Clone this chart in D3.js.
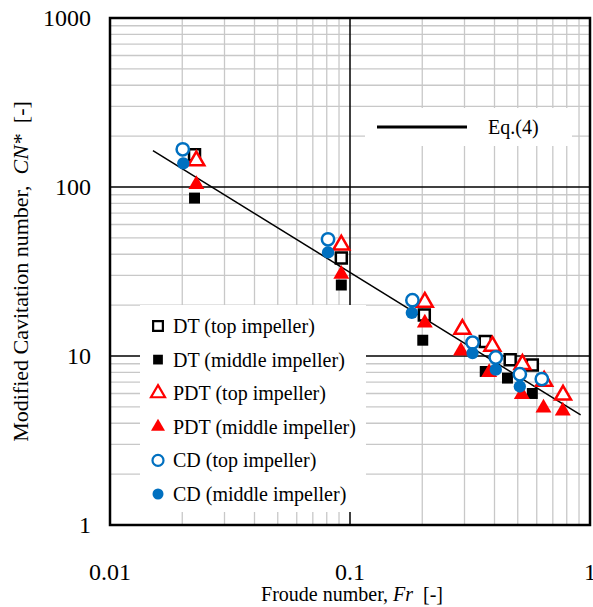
<!DOCTYPE html>
<html>
<head>
<meta charset="utf-8">
<script src="https://cdnjs.cloudflare.com/ajax/libs/d3/7.8.5/d3.min.js"></script>
<style>
  body { margin: 0; background: #fff; }
  svg text { font-family: "Liberation Serif", "Times New Roman", "DejaVu Serif", serif; fill: #000; }
</style>
</head>
<body>
<div id="chart"></div>
<script>
var width = 593, height = 607;
var margin = {top: 18, left: 110, right: 2, bottom: 82};

// Froude number / modified cavitation number for each series
var dtTopFr = [0.0225, 0.092, 0.204, 0.366, 0.465, 0.575];
var dtTopCN = [155, 38, 17.5, 12.2, 9.5, 8.85];
var dtMidFr = [0.0225, 0.092, 0.201, 0.366, 0.453, 0.575];
var dtMidCN = [86, 26.3, 12.4, 8.1, 7.4, 6.0];
var pdtTopFr = [0.0229, 0.092, 0.205, 0.294, 0.392, 0.523, 0.644, 0.772];
var pdtTopCN = [145, 46, 21.1, 14.6, 11.6, 9.05, 7.2, 5.96];
var pdtMidFr = [0.0229, 0.092, 0.205, 0.29, 0.38, 0.52, 0.64, 0.77];
var pdtMidCN = [105, 30.9, 15.9, 10.85, 8.1, 6.0, 5.0, 4.8];
var cdTopFr = [0.0201, 0.081, 0.182, 0.324, 0.405, 0.51, 0.63];
var cdTopCN = [167, 49, 21.4, 12.0, 9.8, 7.8, 7.3];
var cdMidFr = [0.0202, 0.081, 0.181, 0.324, 0.405, 0.51];
var cdMidCN = [138, 41, 18, 10.4, 8.3, 6.6];

// Eq.(4) fitted line end points
var eqFr = [0.0151, 0.914];
var eqCN = [164, 4.48];

var xTicks = [0.01, 0.1, 1];
var yTicks = [1, 10, 100, 1000];

var series = [
  {name: "DT (top impeller)", fr: dtTopFr, cn: dtTopCN, shape: "square", color: "#000", fill: false},
  {name: "DT (middle impeller)", fr: dtMidFr, cn: dtMidCN, shape: "square", color: "#000", fill: true},
  {name: "PDT (top impeller)", fr: pdtTopFr, cn: pdtTopCN, shape: "triangle", color: "#ff0000", fill: false},
  {name: "PDT (middle impeller)", fr: pdtMidFr, cn: pdtMidCN, shape: "triangle", color: "#ff0000", fill: true},
  {name: "CD (top impeller)", fr: cdTopFr, cn: cdTopCN, shape: "circle", color: "#0070c0", fill: false},
  {name: "CD (middle impeller)", fr: cdMidFr, cn: cdMidCN, shape: "circle", color: "#0070c0", fill: true}
];

var svg = d3.select("#chart")
  .append("svg")
  .attr("width", width)
  .attr("height", height);

var xScale = d3.scaleLog()
  .domain([0.01, 1])
  .range([margin.left, width - margin.right - 1]);

var yScale = d3.scaleLog()
  .domain([1, 1000])
  .range([height - margin.bottom, margin.top]);

var x0 = xScale.range()[0], x1 = xScale.range()[1];
var y0 = yScale.range()[0], y1 = yScale.range()[1];

// minor grid lines
var xMinor = xScale.ticks().filter(function(d) { return xTicks.indexOf(d) < 0; });
var yMinor = yScale.ticks().filter(function(d) { return yTicks.indexOf(d) < 0; });

svg.append("g").selectAll("line")
  .data(xMinor)
  .enter().append("line")
    .attr("x1", function(d) { return xScale(d); })
    .attr("x2", function(d) { return xScale(d); })
    .attr("y1", y1).attr("y2", y0)
    .attr("stroke", "#c8c8c8").attr("stroke-width", 1.3);

svg.append("g").selectAll("line")
  .data(yMinor)
  .enter().append("line")
    .attr("y1", function(d) { return yScale(d); })
    .attr("y2", function(d) { return yScale(d); })
    .attr("x1", x0).attr("x2", x1)
    .attr("stroke", "#c8c8c8").attr("stroke-width", 1.3);

// major grid lines
svg.append("g").selectAll("line")
  .data(xTicks.slice(1, -1))
  .enter().append("line")
    .attr("x1", function(d) { return xScale(d); })
    .attr("x2", function(d) { return xScale(d); })
    .attr("y1", y1).attr("y2", y0)
    .attr("stroke", "#000").attr("stroke-width", 1.5);

svg.append("g").selectAll("line")
  .data(yTicks.slice(1, -1))
  .enter().append("line")
    .attr("y1", function(d) { return yScale(d); })
    .attr("y2", function(d) { return yScale(d); })
    .attr("x1", x0).attr("x2", x1)
    .attr("stroke", "#000").attr("stroke-width", 1.5);

// legend boxes sit over the grid
svg.append("rect")
  .attr("x", 365).attr("y", 108).attr("width", 207).attr("height", 38)
  .attr("fill", "#fff");
svg.append("rect")
  .attr("x", 140).attr("y", 305).attr("width", 226).attr("height", 207)
  .attr("fill", "#fff");

// frame
svg.append("rect")
  .attr("x", x0).attr("y", y1)
  .attr("width", x1 - x0).attr("height", y0 - y1)
  .attr("fill", "none").attr("stroke", "#000").attr("stroke-width", 2.5);

// tick labels
svg.append("g").selectAll("text")
  .data(xTicks)
  .enter().append("text")
    .attr("x", function(d) { return xScale(d); })
    .attr("y", 580)
    .attr("text-anchor", "middle")
    .style("font-size", "24px")
    .text(function(d) { return d; });

svg.append("g").selectAll("text")
  .data(yTicks)
  .enter().append("text")
    .attr("x", 91)
    .attr("y", function(d) { return yScale(d) + 8; })
    .attr("text-anchor", "end")
    .style("font-size", "24px")
    .text(function(d) { return d; });

// axis titles
var xTitle = svg.append("text")
  .attr("x", 352).attr("y", 601)
  .attr("text-anchor", "middle")
  .attr("xml:space", "preserve")
  .style("font-size", "20px");
xTitle.append("tspan").text("Froude number, ");
xTitle.append("tspan").style("font-style", "italic").text("Fr");
xTitle.append("tspan").text("  [-]");

var yTitle = svg.append("text")
  .attr("transform", "translate(28," + ((y0 + y1) / 2) + ") rotate(-90)")
  .attr("text-anchor", "middle")
  .attr("xml:space", "preserve")
  .style("font-size", "22px");
yTitle.append("tspan").text("Modified Cavitation number,  ");
yTitle.append("tspan").style("font-style", "italic").text("CN*");
yTitle.append("tspan").text("  [-]");

// Eq.(4) line
var eqLine = d3.line()
  .x(function(d) { return xScale(d[0]); })
  .y(function(d) { return yScale(d[1]); });

svg.append("path")
  .datum(d3.zip(eqFr, eqCN))
  .attr("d", eqLine)
  .attr("fill", "none")
  .attr("stroke", "#000")
  .attr("stroke-width", 1.5);

// markers
function markerPath(shape) {
  if (shape === "square") return d3.symbol().type(d3.symbolSquare).size(120)();
  if (shape === "triangle") return d3.symbol().type(d3.symbolTriangle).size(110)();
  return d3.symbol().type(d3.symbolCircle).size(120)();
}

series.forEach(function(s) {
  svg.append("g").selectAll("path")
    .data(d3.zip(s.fr, s.cn))
    .enter().append("path")
      .attr("d", markerPath(s.shape))
      .attr("transform", function(d) {
        var dy = s.shape === "triangle" ? 1 : 0;
        return "translate(" + xScale(d[0]) + "," + (yScale(d[1]) + dy) + ")";
      })
      .attr("fill", s.fill ? s.color : "#fff")
      .attr("stroke", s.color)
      .attr("stroke-width", s.fill ? 0 : 2.5);
});

// legend for data series
var legend = svg.append("g").selectAll("g")
  .data(series)
  .enter().append("g")
    .attr("transform", function(d, i) { return "translate(158," + (326 + i * 33.6) + ")"; });

legend.append("path")
  .attr("d", function(d) {
    if (d.shape === "square") return d3.symbol().type(d3.symbolSquare).size(95)();
    if (d.shape === "triangle") return d3.symbol().type(d3.symbolTriangle).size(85)();
    return d3.symbol().type(d3.symbolCircle).size(95)();
  })
  .attr("fill", function(d) { return d.fill ? d.color : "#fff"; })
  .attr("stroke", function(d) { return d.color; })
  .attr("stroke-width", function(d) { return d.fill ? 0 : 2.2; });

legend.append("text")
  .attr("x", 15).attr("y", 7)
  .style("font-size", "20px")
  .text(function(d) { return d.name; });

// legend for the fitted line
svg.append("line")
  .attr("x1", 377).attr("x2", 467).attr("y1", 127).attr("y2", 127)
  .attr("stroke", "#000").attr("stroke-width", 3);
svg.append("text")
  .attr("x", 488).attr("y", 134)
  .style("font-size", "20px")
  .text("Eq.(4)");
</script>
</body>
</html>
